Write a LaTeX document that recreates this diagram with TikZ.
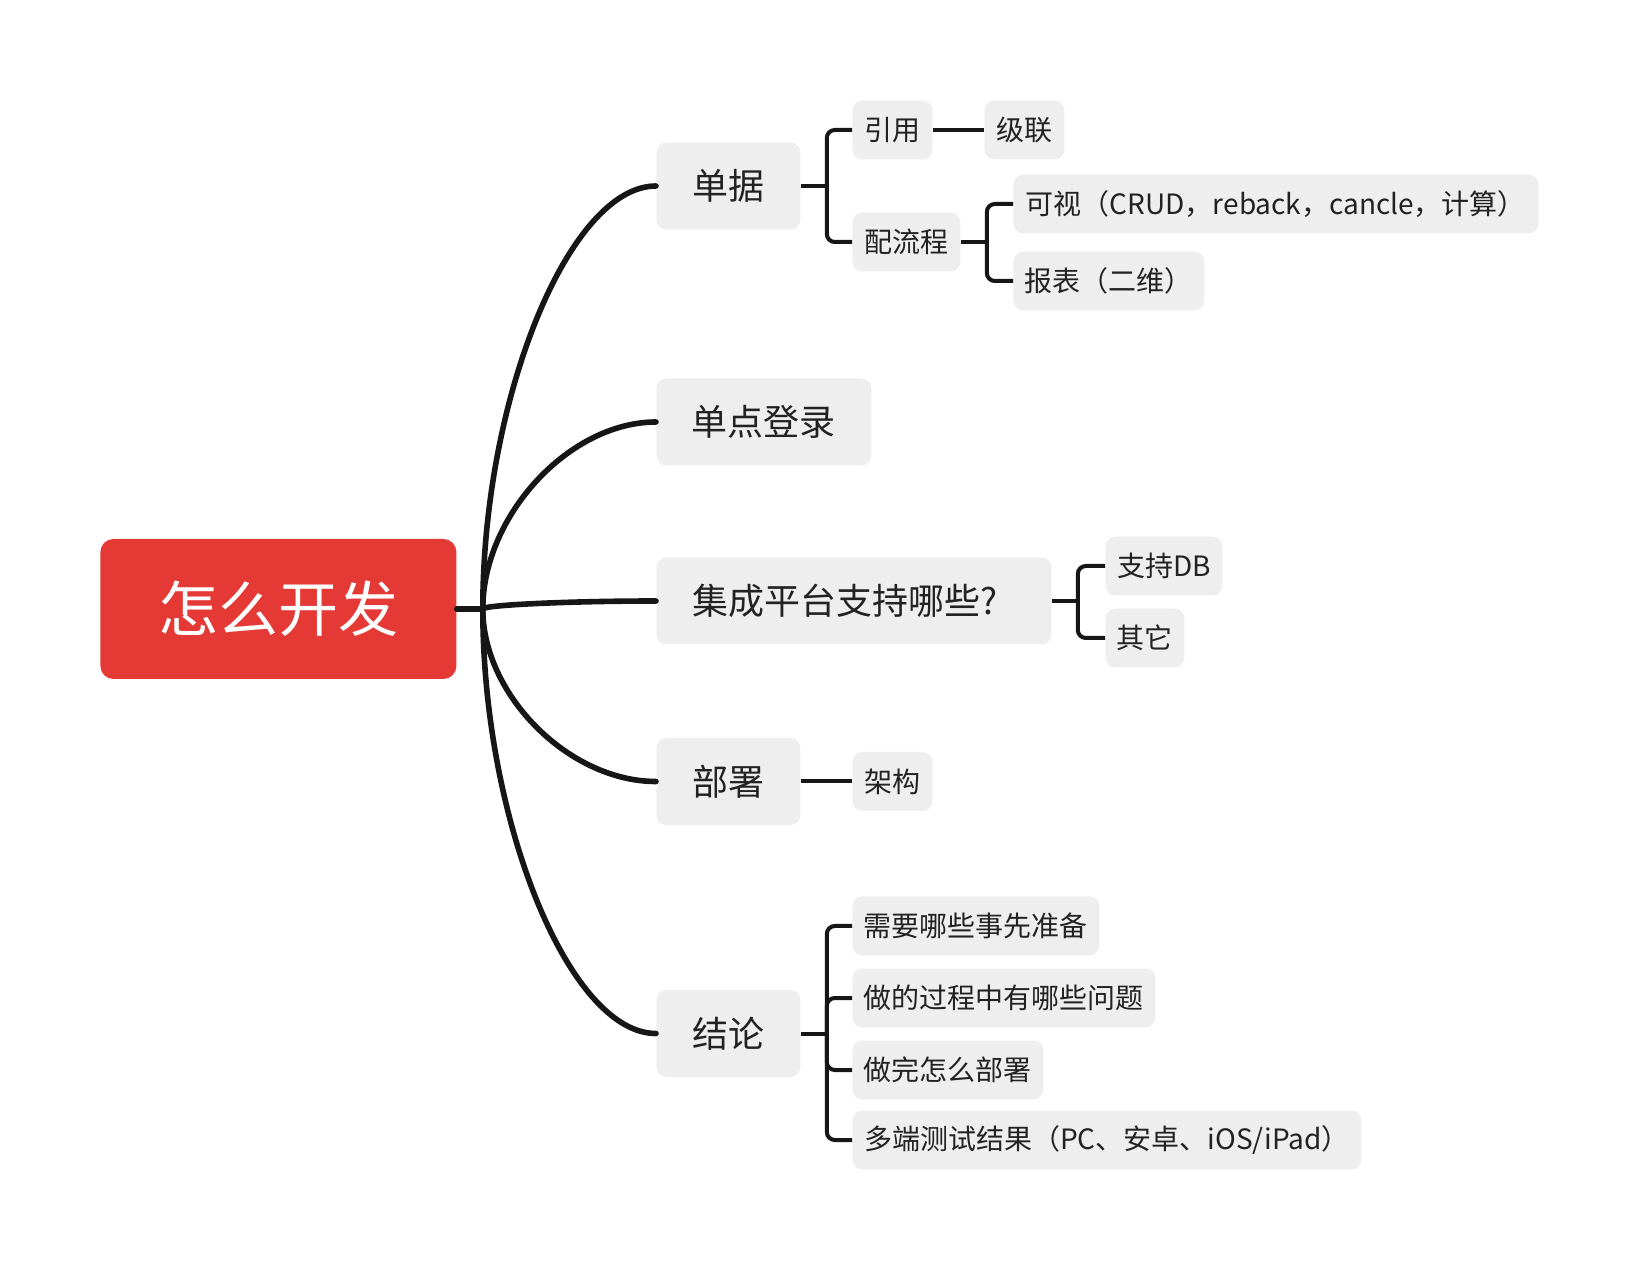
\documentclass[tikz,border=0pt]{standalone}
\usepackage{fontspec}
\setmainfont{Noto Sans CJK SC}
\usetikzlibrary{calc}
\definecolor{rootred}{RGB}{229,57,53}
\definecolor{boxgrey}{RGB}{238,238,238}
\definecolor{txt}{RGB}{34,34,34}
\definecolor{ln}{RGB}{22,22,22}
\begin{document}
\begin{tikzpicture}[x=0.5pt,y=-0.5pt,
  rootbox/.style={fill=rootred, text=white, rounded corners=6.5pt, font=\fontsize{30pt}{36pt}\selectfont, minimum height=70pt, anchor=west, inner sep=0pt},
  mainbox/.style={fill=boxgrey, text=txt, rounded corners=5pt, font=\fontsize{18pt}{22pt}\selectfont, minimum height=43.5pt, anchor=west, inner sep=0pt},
  subbox/.style={fill=boxgrey, text=txt, rounded corners=5pt, font=\fontsize{14pt}{17pt}\selectfont, minimum height=29.5pt, anchor=west, inner sep=0pt},
  curve/.style={draw=ln, line width=2.8pt, line cap=round},
  bracket/.style={draw=ln, line width=2pt, rounded corners=4pt},
]
\useasboundingbox (0,0) rectangle (1640,1272);

% root
\node[rootbox, minimum width=178pt] (root) at (100,609) {怎么开发};

% main topics
\node[mainbox, minimum width=72pt]   (danju) at (656,186)  {单据};
\node[mainbox, minimum width=107.5pt] (sso)   at (656,422)  {单点登录};
\node[mainbox, inner xsep=18pt, text width=161.5pt, align=left] (jc) at (656,601) {集成平台支持哪些?};
\node[mainbox, minimum width=72pt]   (bs)    at (656,781.5){部署};
\node[mainbox, minimum width=72pt]   (jl)    at (656,1033.5){结论};

% subtopics
\node[subbox, minimum width=40pt]   (yy)   at (852,130)  {引用};
\node[subbox, minimum width=40pt]   (jll)  at (984,130)  {级联};
\node[subbox, minimum width=54pt]   (plc)  at (852,242)  {配流程};
\node[subbox, minimum width=262.5pt] (ks)  at (1013,204) {可视（CRUD，reback，cancle，计算）};
\node[subbox, minimum width=95.5pt] (bb)   at (1013,281) {报表（二维）};
\node[subbox, minimum width=58.5pt] (zc)   at (1105,566) {支持DB};
\node[subbox, minimum width=39.5pt] (qt)   at (1105,638) {其它};
\node[subbox, minimum width=40pt]   (jg)   at (852,781.5){架构};
\node[subbox, minimum width=123.5pt] (x1)  at (852,926)  {需要哪些事先准备};
\node[subbox, minimum width=151.5pt] (x2)  at (852,998)  {做的过程中有哪些问题};
\node[subbox, minimum width=95.5pt]  (x3)  at (852,1070) {做完怎么部署};
\node[subbox, minimum width=254.5pt] (x4)  at (852,1140) {多端测试结果（PC、安卓、iOS/iPad）};

% root connectors
\coordinate (j) at ($(root.east)+(26,0)$);
\draw[curve] (root.east) -- (j);
\foreach \n in {danju,sso,jc,bs,jl}
  \draw[curve] (j) .. controls ($(j)!0.5!(j |- \n.west)$) and ($(j |- \n.west)!0.5!(\n.west)$) .. (\n.west);

% brackets
\coordinate (ja) at ($(danju.east)+(26,0)$);
\draw[bracket] (danju.east) -- (ja);
\draw[bracket] (ja) |- (yy.west);
\draw[bracket] (ja) |- (plc.west);
\draw[bracket] (yy.east) -- (jll.west);

\coordinate (jb) at ($(plc.east)+(26,0)$);
\draw[bracket] (plc.east) -- (jb);
\draw[bracket] (jb) |- (ks.west);
\draw[bracket] (jb) |- (bb.west);

\coordinate (jc1) at ($(jc.east)+(26,0)$);
\draw[bracket] (jc.east) -- (jc1);
\draw[bracket] (jc1) |- (zc.west);
\draw[bracket] (jc1) |- (qt.west);

\draw[bracket] (bs.east) -- (jg.west);

\coordinate (jd) at ($(jl.east)+(26,0)$);
\draw[bracket] (jl.east) -- (jd);
\foreach \n in {x1,x2,x3,x4}
  \draw[bracket] (jd) |- (\n.west);
\end{tikzpicture}
\end{document}
